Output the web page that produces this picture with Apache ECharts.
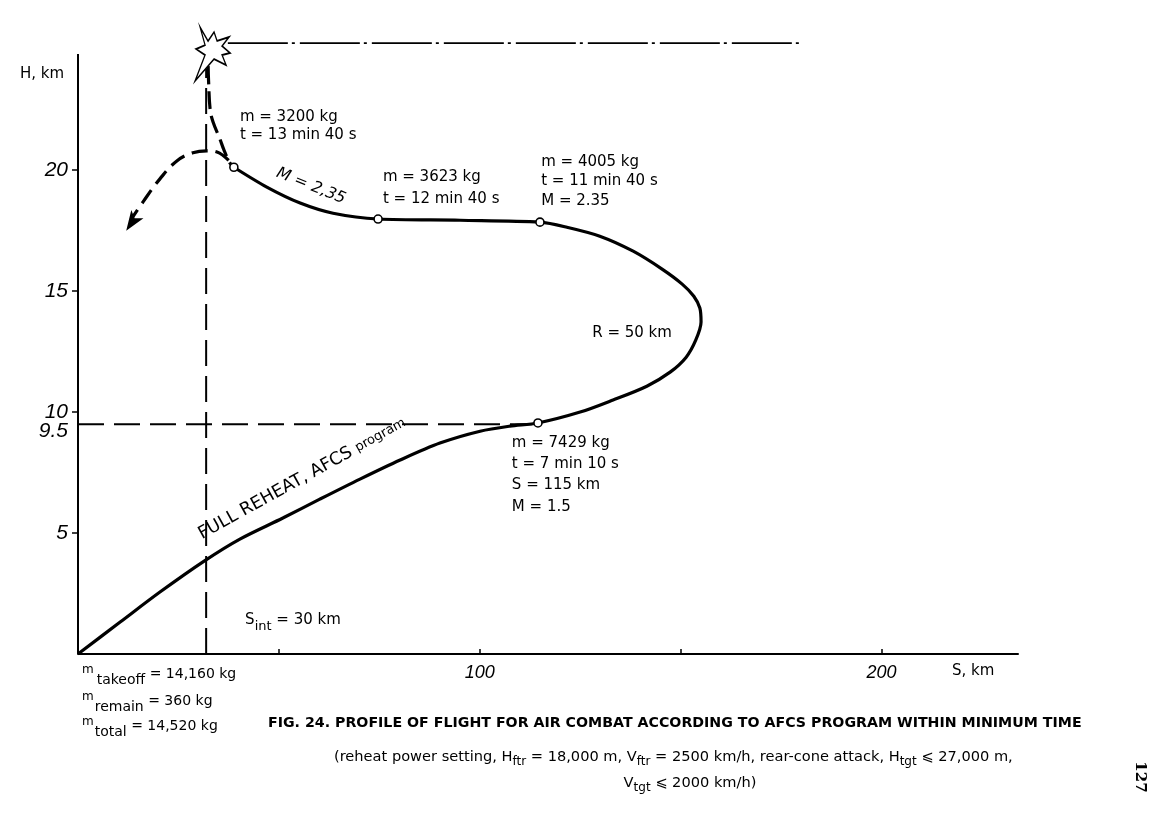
<!DOCTYPE html>
<html><head><meta charset="utf-8">
<script src="https://cdn.jsdelivr.net/npm/echarts@6/dist/echarts.min.js"></script>
<style>html,body{margin:0;padding:0;background:#fff}#c{width:1162px;height:817px}</style>
</head><body><div id="c"></div>
<script>
// ---- data (S in km, H in km) ----
const xTicks = [50, 100, 150, 200];
const xTickLabels = [100, 200];
const yTicks = [5, 10, 15, 20];
const yTickLabels = [5, 9.5, 10, 15, 20];
const climbPath = [[0,0],[10.5,1.32],[20.4,2.56],[31.4,3.84],[40.3,4.75],[51.0,5.62],[60.2,6.40],[70.2,7.23],[80.2,8.02],
  [90.1,8.72],[100.1,9.21],[107.5,9.42],[114.5,9.55]];
const turnPath = [[125.0,10.0],[133.2,10.5],[141.6,11.07],[147.4,11.65],[151.4,12.27],[153.8,12.98],[155.1,13.72],
  [154.8,14.30],[153.3,14.79],[150.4,15.29],[145.4,15.91],[138.2,16.65],[129.9,17.27],[121.7,17.64],[115.0,17.85]];
const cruisePath = [[95.1,17.93],[74.7,17.98],[63.5,18.22],[55.3,18.64],[47.0,19.3],[38.8,20.12]];
const descentPath = [[32.4,24.3],[32.5,23.7],[32.9,22.5],[33.6,22.0],[35.3,21.3],[36.3,20.85],[37.8,20.3],[38.8,20.12]];
const escapePath = [[37.5,20.4],[34.6,20.75],[32.1,20.8],[28.6,20.72],[24.6,20.38],[20.4,19.64],[16.2,18.69],[13.2,17.95]];
const arrowPoint = [12.0, 17.5];
const interceptPath = [[31.9,0],[31.9,24.2]];
const levelPath = [[0,9.5],[113,9.5]];
const attackPath = [[37.3,25.25],[179.7,25.25]];
const yAxisPath = [[0,0],[0,24.8]];
const keyPoints = [[38.8,20.12],[74.7,17.98],[115,17.85],[114.5,9.55]];
const starPoint = [33.5,24.8];
const notes = [
  'm = 3200 kg\nt = 13 min 40 s',
  'M = 2,35',
  'm = 3623 kg\nt = 12 min 40 s',
  'm = 4005 kg\nt = 11 min 40 s\nM = 2.35',
  'R = 50 km',
  'm = 7429 kg\nt = 7 min 10 s\nS = 115 km\nM = 1.5',
  '{a|FULL REHEAT, AFCS }{b|program}',
  '{a|S}{s|int}{a| = 30 km}'
];
const noteAnchors = [[40.3,22.56],[58.0,19.34],[75.9,20.17],[115.3,20.74],[128.0,13.26],[108.0,9.17],[55.8,7.25],[41.6,1.40]];

// ---- styles ----
const TXT = 'DejaVu Sans';
const NUM = "'Liberation Sans Narrow','Liberation Sans',sans-serif";
const INK = {color:'#000'};
const noteStyles = [
  {align:'left', verticalAlign:'top', lineHeight:18},
  {align:'center', verticalAlign:'middle', rotate:-22, fontStyle:'italic', fontSize:16},
  {align:'left', verticalAlign:'top', lineHeight:22},
  {align:'left', verticalAlign:'top', lineHeight:19.5},
  {align:'left', verticalAlign:'middle'},
  {align:'left', verticalAlign:'top', lineHeight:21.3},
  {align:'center', verticalAlign:'middle', rotate:29,
    rich:{a:Object.assign({fontSize:17.5, fontFamily:TXT}, INK), b:Object.assign({fontSize:13, fontFamily:TXT}, INK)}},
  {align:'left', verticalAlign:'middle',
    rich:{a:Object.assign({fontSize:15, fontFamily:TXT}, INK), s:Object.assign({fontSize:13, fontFamily:TXT, padding:[12,0,0,0]}, INK)}}
];

const chart = echarts.init(document.getElementById('c'), null, {renderer:'canvas'});
const lineBase = {type:'line', showSymbol:false, symbol:'none', clip:false, silent:true, animation:false};
const scatterBase = {type:'scatter', clip:false, silent:true, animation:false};
const starPathSym = 'path://M5 0 L13 14 L19 5 L22 14 L34 10 L27 19 L35 26 L27 28 L31 38 L19 32 L0 54 L10 28 L1 22 L10 18 Z';
const mainPath = climbPath.concat(turnPath, cruisePath);

const option = {
  animation:false,
  backgroundColor:'#fff',
  grid:{left:78, right:144, top:25, bottom:163},
  xAxis:{type:'value', min:0, max:234, interval:50,
    axisLine:{show:true, lineStyle:{color:'#000', width:2}},
    axisTick:{show:true, inside:true, length:5, customValues:xTicks, lineStyle:{color:'#000', width:1.5}},
    axisLabel:{customValues:xTickLabels, margin:10, fontFamily:NUM, fontStyle:'italic', fontSize:18, color:'#000'},
    splitLine:{show:false}},
  yAxis:{type:'value', min:0, max:26, interval:5,
    axisLine:{show:false},
    axisTick:{show:true, inside:false, length:6, customValues:yTicks, lineStyle:{color:'#000', width:1.5}},
    axisLabel:{customValues:yTickLabels, margin:10, fontFamily:NUM, fontStyle:'italic', fontSize:21, color:'#000',
      formatter:v => v === 9.5 ? '{d|9.5}' : String(v),
      rich:{d:{fontFamily:NUM, fontStyle:'italic', fontSize:21, color:'#000', padding:[14,0,0,0]}}},
    splitLine:{show:false}},
  series:[
    Object.assign({}, lineBase, {data:yAxisPath, lineStyle:{color:'#000', width:2}, z:3}),
    Object.assign({}, lineBase, {data:interceptPath, lineStyle:{color:'#000', width:2, type:[26,10]}, z:2}),
    Object.assign({}, lineBase, {data:levelPath, lineStyle:{color:'#000', width:2, type:[26,10]}, z:2}),
    Object.assign({}, lineBase, {data:attackPath, lineStyle:{color:'#000', width:1.8, type:[60,4,3,5]}, z:2}),
    Object.assign({}, lineBase, {data:mainPath, smooth:0.3, lineStyle:{color:'#000', width:3.2}, z:4}),
    Object.assign({}, lineBase, {data:descentPath, smooth:0.4, lineStyle:{color:'#000', width:3.2, type:[18,7]}, z:4}),
    Object.assign({}, lineBase, {data:escapePath, smooth:0.4, lineStyle:{color:'#000', width:3.2, type:[16,8]}, z:4}),
    Object.assign({}, scatterBase, {z:6, data:[arrowPoint],
      symbol:'arrow', symbolSize:[11,20], symbolRotate:146, itemStyle:{color:'#000', opacity:1}}),
    Object.assign({}, scatterBase, {z:6, data:keyPoints,
      symbol:'circle', symbolSize:8, itemStyle:{color:'#fff', borderColor:'#000', borderWidth:1.6, opacity:1}}),
    Object.assign({}, scatterBase, {z:7, data:[starPoint],
      symbol:starPathSym, symbolSize:[35,54], itemStyle:{color:'#fff', borderColor:'#000', borderWidth:1.5, opacity:1}}),
    Object.assign({}, scatterBase, {z:8, symbolSize:0, itemStyle:{opacity:1},
      data: noteAnchors.map((p,i) => ({value:p, label:Object.assign({show:true, position:[0,0], formatter:notes[i],
        fontFamily:TXT, fontSize:15, opacity:1}, INK, noteStyles[i])}))})
  ],
  graphic:[
    {type:'text', x:20, y:74, style:{text:'H, km', font:'15px DejaVu Sans', fill:'#000', verticalAlign:'middle'}},
    {type:'text', x:952, y:671, style:{text:'S, km', font:'15px DejaVu Sans', fill:'#000', verticalAlign:'middle'}},
    {type:'text', x:82, y:674, style:{text:'{m|m}{s|takeoff}{n| = 14,160 kg}', verticalAlign:'middle',
      rich:{m:{fontSize:12, fontFamily:TXT, fill:'#000', padding:[0,3,8,0]}, s:{fontSize:14, fontFamily:TXT, fill:'#000', padding:[12,0,0,0]}, n:{fontSize:14, fontFamily:TXT, fill:'#000'}}}},
    {type:'text', x:82, y:701, style:{text:'{m|m}{s|remain}{n| = 360 kg}', verticalAlign:'middle',
      rich:{m:{fontSize:12, fontFamily:TXT, fill:'#000', padding:[0,1,8,0]}, s:{fontSize:14, fontFamily:TXT, fill:'#000', padding:[12,0,0,0]}, n:{fontSize:14, fontFamily:TXT, fill:'#000'}}}},
    {type:'text', x:82, y:726, style:{text:'{m|m}{s|total}{n| = 14,520 kg}', verticalAlign:'middle',
      rich:{m:{fontSize:12, fontFamily:TXT, fill:'#000', padding:[0,1,8,0]}, s:{fontSize:14, fontFamily:TXT, fill:'#000', padding:[12,0,0,0]}, n:{fontSize:14, fontFamily:TXT, fill:'#000'}}}},
    {type:'text', x:268, y:723, style:{text:'FIG. 24. PROFILE OF FLIGHT FOR AIR COMBAT ACCORDING TO AFCS PROGRAM WITHIN MINIMUM TIME',
      font:'bold 14.2px DejaVu Sans', fill:'#000', verticalAlign:'middle'}},
    {type:'text', x:334, y:757, style:{text:'(reheat power setting, H{s|ftr} = 18,000 m, V{s|ftr} = 2500 km/h, rear-cone attack, H{s|tgt} ⩽ 27,000 m,',
      font:'14.6px DejaVu Sans', fill:'#000', verticalAlign:'middle',
      rich:{s:{fontSize:12, fontFamily:TXT, fill:'#000', padding:[10,0,0,0]}}}},
    {type:'text', x:690, y:783, style:{text:'V{s|tgt} ⩽ 2000 km/h)',
      font:'14.6px DejaVu Sans', fill:'#000', align:'center', verticalAlign:'middle',
      rich:{s:{fontSize:12, fontFamily:TXT, fill:'#000', padding:[10,0,0,0]}}}},
    {type:'text', x:1140, y:777, rotation:-Math.PI/2, style:{text:'127', font:'bold 15px DejaVu Serif', fill:'#000', align:'center', verticalAlign:'middle'}}
  ]
};
chart.setOption(option);
</script></body></html>
